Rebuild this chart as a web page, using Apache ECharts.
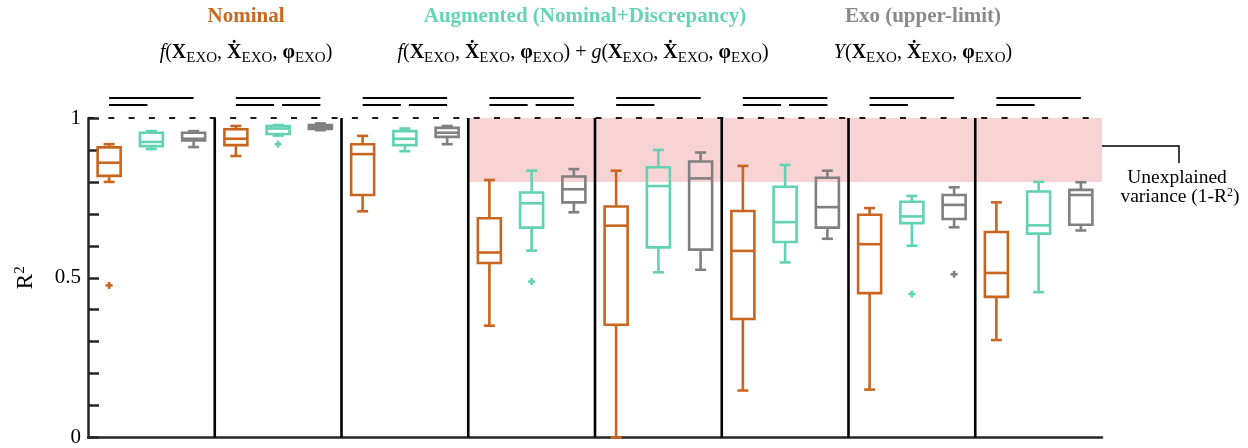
<!DOCTYPE html>
<html><head><meta charset="utf-8">
<script src="https://cdn.jsdelivr.net/npm/echarts@6/dist/echarts.min.js"></script>
<style>html,body{margin:0;padding:0;background:#fff}#c{width:1248px;height:448px}</style>
</head><body><div id="c"></div>
<script>
// ---------------- data ----------------
const conditions = ['C1','C2','C3','C4','C5','C6','C7','C8'];
const models = ['Nominal','Augmented','Exo'];
// [min, Q1, median, Q3, max]
const nominalBox = [
 [0.800,0.819,0.860,0.908,0.918],
 [0.881,0.915,0.935,0.965,0.975],
 [0.708,0.759,0.887,0.918,0.944],
 [0.350,0.546,0.579,0.686,0.806],
 [0.000,0.353,0.663,0.723,0.835],
 [0.147,0.371,0.584,0.709,0.850],
 [0.150,0.452,0.605,0.697,0.718],
 [0.305,0.440,0.515,0.643,0.736]
];
const augmentedBox = [
 [0.903,0.912,0.925,0.954,0.959],
 [0.945,0.950,0.967,0.975,0.978],
 [0.896,0.915,0.935,0.959,0.967],
 [0.585,0.657,0.733,0.767,0.835],
 [0.517,0.595,0.787,0.846,0.900],
 [0.548,0.612,0.674,0.785,0.853],
 [0.600,0.671,0.692,0.738,0.756],
 [0.455,0.638,0.664,0.770,0.800]
];
const exoBox = [
 [0.909,0.930,0.935,0.954,0.959],
 [0.962,0.966,0.972,0.978,0.983],
 [0.918,0.941,0.954,0.969,0.975],
 [0.705,0.736,0.777,0.817,0.840],
 [0.525,0.588,0.811,0.864,0.892],
 [0.622,0.657,0.721,0.813,0.835],
 [0.658,0.684,0.728,0.759,0.783],
 [0.648,0.666,0.759,0.775,0.799]
];
// outliers: [conditionIndex, value]
const nominalOutliers = [[0,0.476]];
const augmentedOutliers = [[1,0.918],[3,0.488],[6,0.449]];
const exoOutliers = [[6,0.511]];
// significance bars: [condition, row (0 = upper), fromModel, toModel]
const sigBars = [
 [0,0,0,2],[0,1,0,1],
 [1,0,0,2],[1,1,0,1],[1,1,1,2],
 [2,0,0,2],[2,1,0,1],[2,1,1,2],
 [3,0,0,2],[3,1,0,1],[3,1,1,2],
 [4,0,0,2],[4,1,0,1],
 [5,0,0,2],[5,1,0,1],[5,1,1,2],
 [6,0,0,2],[6,1,0,1],
 [7,0,0,2],[7,1,0,1]
];
// shaded "unexplained variance" band: [fromCondition, toCondition(excl), low, high]
const unexplainedBand = [[3, 8, 0.8, 1.0]];
const yTickLabels = ['0','0.5','1'];

// ---------------- style ----------------
const colors = ['#c8661f','#62d3b2','#808080'];
const serif = '"Liberation Serif","Times New Roman",serif';
const boxSets = [nominalBox, augmentedBox, exoBox];
const outSets = [nominalOutliers, augmentedOutliers, exoOutliers];
const xPos = (g, m) => g + (m + 0.5) / 3;

const boxData = [];
boxSets.forEach((set, m) => set.forEach((b, g) => boxData.push([xPos(g, m), b[0], b[1], b[2], b[3], b[4], m])));
const outData = [];
outSets.forEach((set, m) => set.forEach(o => outData.push([xPos(o[0], m), o[1], m])));

const chart = echarts.init(document.getElementById('c'));

const FS = 20, SS = 15;
const richBase = {
  fo:{fontFamily:serif,fontSize:FS,fontStyle:'italic',color:colors[0],lineHeight:26},
  po:{fontFamily:serif,fontSize:FS,color:colors[0],lineHeight:26},
  go:{fontFamily:serif,fontSize:FS,fontStyle:'italic',color:colors[1],lineHeight:26},
  pg:{fontFamily:serif,fontSize:FS,color:colors[1],lineHeight:26},
  yo:{fontFamily:serif,fontSize:FS,fontStyle:'italic',color:'#8a8a8a',lineHeight:26},
  py:{fontFamily:serif,fontSize:FS,color:'#8a8a8a',lineHeight:26},
  b:{fontFamily:serif,fontSize:FS,fontWeight:'bold',color:'#000',lineHeight:26},
  c:{fontFamily:serif,fontSize:FS,color:'#000',lineHeight:26},
  pl:{fontFamily:serif,fontSize:FS,color:'#555',lineHeight:26},
  s:{fontFamily:serif,fontSize:SS,color:'#000',lineHeight:14,verticalAlign:'bottom'}
};
const args = '{b|X}{s|EXO}{c|, }{b|\u1E8A}{s|EXO}{c|, }{b|\u03C6}{s|EXO}';
const fNom = '{fo|f}{po|(}' + args + '{po|)}';
const fAug = fNom + '{pl| + }{go|g}{pg|(}' + args + '{pg|)}';
const fExo = '{yo|Y}{py|(}' + args + '{py|)}';

function txt(x, y, text, style){
  return {type:'text', x:x, y:y, silent:true, style:Object.assign({text:text, align:'center', verticalAlign:'middle', fontFamily:serif}, style)};
}

const option = {
  animation:false,
  grid:{left:88, right:146, top:118, bottom:10, containLabel:false},
  xAxis:[
    {type:'category', data:conditions, boundaryGap:true,
     axisLine:{lineStyle:{color:'#262626', width:2.5}},
     axisTick:{inside:true, length:11, alignWithLabel:true, lineStyle:{color:'#262626', width:2.5}},
     axisLabel:{show:false}, splitLine:{show:false}},
    {type:'value', min:0, max:8, show:false}
  ],
  yAxis:{type:'value', min:0, max:1, interval:0.1,
    axisLine:{show:true, lineStyle:{color:'#262626', width:2.5}},
    axisTick:{show:true, inside:true, length:11, lineStyle:{color:'#262626', width:2.5}},
    splitLine:{show:false},
    axisLabel:{margin:7, fontFamily:serif, fontSize:21, color:'#000',
      formatter:function(v){ const r = Math.round(v*10)/10; const s = String(r); return yTickLabels.indexOf(s) >= 0 ? s : ''; }},
    name:'{r|R}{s|2}', nameLocation:'middle', nameRotate:90, nameGap:49,
    nameTextStyle:{rich:{r:{fontFamily:serif,fontSize:23,color:'#000',lineHeight:26},
                         s:{fontFamily:serif,fontSize:15,color:'#000',lineHeight:15,verticalAlign:'top'}}}
  },
  graphic:[
    txt(246, 17, 'Nominal', {fontSize:21, fontWeight:'bold', fill:'#c8691f'}),
    txt(246, 53, fNom, {rich:richBase}),
    txt(585, 17, 'Augmented (Nominal+Discrepancy)', {fontSize:21, fontWeight:'bold', fill:'#66d4b4'}),
    txt(583, 53, fAug, {rich:richBase}),
    txt(923, 17, 'Exo (upper-limit)', {fontSize:21, fontWeight:'bold', fill:'#8a8a8a'}),
    txt(923, 53, fExo, {rich:richBase}),
    {type:'polyline', silent:true, shape:{points:[[1097,146],[1179,146],[1179,163]]}, style:{stroke:'#000', lineWidth:1.5, fill:null}},
    txt(1177, 178, 'Unexplained', {fontSize:19.5, fill:'#000'}),
    txt(1180, 197, '{a|variance (1-R}{s|2}{a|)}', {rich:{a:{fontFamily:serif,fontSize:19.5,color:'#000',lineHeight:20},s:{fontFamily:serif,fontSize:12,color:'#000',lineHeight:12,verticalAlign:'top'}}})
  ],
  series:[
    { // shaded band
      type:'custom', xAxisIndex:1, yAxisIndex:0, z:1, silent:true,
      data:unexplainedBand,
      renderItem:function(p, api){
        const a = api.coord([api.value(0), api.value(3)]);
        const b = api.coord([api.value(1), api.value(2)]);
        return {type:'rect', shape:{x:a[0], y:a[1], width:b[0]-a[0], height:b[1]-a[1]}, style:{fill:'#f8d3d4'}};
      }
    },
    { // dashed R2 = 1 line
      type:'custom', xAxisIndex:1, yAxisIndex:0, z:2, silent:true,
      data:[[0, 8, 1]],
      renderItem:function(p, api){
        const a = api.coord([api.value(0), api.value(2)]);
        const b = api.coord([api.value(1), api.value(2)]);
        return {type:'line', shape:{x1:a[0], y1:a[1], x2:b[0], y2:b[1]}, style:{stroke:'#1a1a1a', lineWidth:2, lineDash:[6,14.3]}};
      }
    },
    { // group separators
      type:'custom', xAxisIndex:1, yAxisIndex:0, z:3, silent:true,
      data:conditions.slice(1).map((c, i) => [i + 1]),
      renderItem:function(p, api){
        const a = api.coord([api.value(0), 0]);
        const b = api.coord([api.value(0), 1]);
        return {type:'line', shape:{x1:a[0], y1:a[1], x2:b[0], y2:b[1]}, style:{stroke:'#000', lineWidth:2.6}};
      }
    },
    { // significance bars
      type:'custom', xAxisIndex:1, yAxisIndex:0, z:3, silent:true, clip:false,
      data:sigBars,
      renderItem:function(p, api){
        const g = api.value(0), row = api.value(1), f = api.value(2), t = api.value(3);
        const a = api.coord([xPos(g, f), 1]);
        const b = api.coord([xPos(g, t), 1]);
        let x1 = a[0], x2 = b[0];
        if (row === 1) { if (t === 1) x2 -= 4; if (f === 1) x1 += 4; }
        const y = a[1] - (row === 0 ? 20 : 13);
        return {type:'line', shape:{x1:x1, y1:y, x2:x2, y2:y}, style:{stroke:'#000', lineWidth:2}};
      }
    },
    { // box plots
      type:'custom', xAxisIndex:1, yAxisIndex:0, z:4, silent:true,
      data:boxData, encode:{x:0, y:[1,2,3,4,5]},
      renderItem:function(p, api){
        const x = api.value(0), m = api.value(6);
        const pt = v => api.coord([x, v]);
        const cx = pt(api.value(1))[0];
        const yMin = pt(api.value(1))[1], yQ1 = pt(api.value(2))[1], yMed = pt(api.value(3))[1],
              yQ3 = pt(api.value(4))[1], yMax = pt(api.value(5))[1];
        const hw = 11.5, cw = 5.5;
        const st = {stroke:colors[m], lineWidth:2.6, fill:null};
        const L = (x1,y1,x2,y2) => ({type:'line', shape:{x1,y1,x2,y2}, style:st});
        return {type:'group', children:[
          {type:'rect', shape:{x:cx-hw, y:yQ3, width:2*hw, height:yQ1-yQ3}, style:st},
          L(cx-hw, yMed, cx+hw, yMed),
          L(cx, yQ3, cx, yMax), L(cx-cw, yMax, cx+cw, yMax),
          L(cx, yQ1, cx, yMin), L(cx-cw, yMin, cx+cw, yMin)
        ]};
      }
    },
    { // outliers
      type:'custom', xAxisIndex:1, yAxisIndex:0, z:5, silent:true,
      data:outData,
      renderItem:function(p, api){
        const c = api.coord([api.value(0), api.value(1)]);
        const s = 3.5;
        const st = {stroke:colors[api.value(2)], lineWidth:2.6};
        return {type:'group', children:[
          {type:'line', shape:{x1:c[0]-s, y1:c[1], x2:c[0]+s, y2:c[1]}, style:st},
          {type:'line', shape:{x1:c[0], y1:c[1]-s, x2:c[0], y2:c[1]+s}, style:st}
        ]};
      }
    }
  ]
};
chart.setOption(option);
</script></body></html>
